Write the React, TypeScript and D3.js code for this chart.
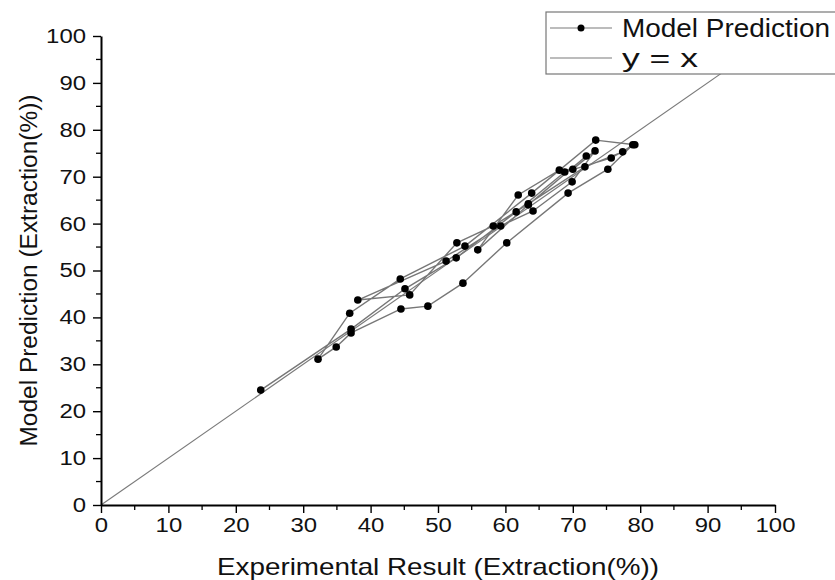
import React, { useEffect, useRef } from 'react';
import * as d3 from 'd3';

// experimental extraction (%) in run order
const experimental = [
  23.7, 37.1, 45.1, 52.7, 61.6, 68.8, 75.7, 79.2, 73.4, 63.9,
  54.0, 44.4, 36.9, 32.2, 34.9, 37.1, 44.5, 48.5, 53.7, 60.2,
  69.3, 75.2, 78.9, 77.4, 71.8, 63.4, 58.2, 52.8, 45.8, 38.1,
  51.2, 59.3, 64.1, 69.9, 73.3, 70.0, 68.0, 61.9, 55.9, 63.4, 72.0,
];
// model predicted extraction (%)
const predicted = [
  24.5, 37.5, 46.1, 52.7, 62.5, 71.0, 74.0, 76.8, 77.8, 66.5,
  55.2, 48.2, 40.9, 31.1, 33.7, 36.7, 41.8, 42.4, 47.3, 55.9,
  66.5, 71.6, 76.8, 75.3, 72.1, 64.2, 59.5, 55.9, 44.8, 43.7,
  52.0, 59.5, 62.7, 68.9, 75.5, 71.6, 71.4, 66.1, 54.4, 64.0, 74.4,
];
const tickValues = [0, 10, 20, 30, 40, 50, 60, 70, 80, 90, 100];
const minorTicks = [5, 15, 25, 35, 45, 55, 65, 75, 85, 95];
const legendLabels = ['Model Prediction', 'y = x'];

const App = () => {
  const ref = useRef<SVGSVGElement | null>(null);

  useEffect(() => {
    const margin = { left: 101, right: 60, top: 36, bottom: 75 };
    const W = 835;
    const H = 580;
    const width = W - margin.left - margin.right;
    const height = H - margin.top - margin.bottom;
    const font = 'Liberation Sans, Arial, sans-serif';

    const root = d3.select(ref.current);
    root.selectAll('*').remove();
    const svg = root.append('g').attr('transform', `translate(${margin.left}, ${margin.top})`);

    const x = d3.scaleLinear().domain([0, 100]).range([0, width]);
    const y = d3.scaleLinear().domain([0, 100]).range([height, 0]);

    // y = x reference line
    svg.append('line')
      .attr('x1', x(0)).attr('y1', y(0))
      .attr('x2', x(100)).attr('y2', y(100))
      .attr('stroke', '#7a7a7a')
      .attr('stroke-width', 1.1);

    // model prediction line + markers
    const pts = experimental.map((e, i) => [e, predicted[i]] as [number, number]);
    const line = d3.line<[number, number]>().x(d => x(d[0])).y(d => y(d[1]));
    svg.append('path')
      .attr('d', line(pts))
      .attr('fill', 'none')
      .attr('stroke', '#777')
      .attr('stroke-width', 1.4);
    svg.selectAll('.dot')
      .data(pts)
      .enter()
      .append('circle')
      .attr('class', 'dot')
      .attr('cx', d => x(d[0]))
      .attr('cy', d => y(d[1]))
      .attr('r', 3.8)
      .attr('fill', '#000');

    // axes
    const xAxis = svg.append('g').attr('transform', `translate(0, ${height})`);
    xAxis.call(d3.axisBottom(x).tickValues(tickValues).tickSize(8).tickSizeOuter(0).tickPadding(5));
    xAxis.selectAll('.minor')
      .data(minorTicks)
      .enter()
      .append('line')
      .attr('x1', d => x(d)).attr('x2', d => x(d))
      .attr('y1', 0).attr('y2', 5)
      .attr('stroke', '#000')
      .attr('stroke-width', 1.3);

    const yAxis = svg.append('g');
    yAxis.call(d3.axisLeft(y).tickValues(tickValues).tickSize(8).tickSizeOuter(0).tickPadding(7));
    yAxis.selectAll('.minor')
      .data(minorTicks)
      .enter()
      .append('line')
      .attr('y1', d => y(d)).attr('y2', d => y(d))
      .attr('x1', 0).attr('x2', -5)
      .attr('stroke', '#000')
      .attr('stroke-width', 1.3);

    svg.selectAll('.domain').attr('stroke', '#000').attr('stroke-width', 2);
    svg.selectAll('.tick line').attr('stroke', '#000').attr('stroke-width', 1.4);
    svg.selectAll('.tick text')
      .attr('font-family', font)
      .attr('font-size', '20px')
      .attr('fill', '#111')
      .attr('lengthAdjust', 'spacingAndGlyphs')
      .attr('textLength', (d: any) => String(d).length * 13.3);

    // axis labels
    svg.append('text')
      .attr('x', width / 2)
      .attr('y', height + 70)
      .attr('text-anchor', 'middle')
      .attr('font-family', font)
      .attr('font-size', '24px')
      .attr('lengthAdjust', 'spacingAndGlyphs')
      .attr('textLength', 442)
      .attr('fill', '#111')
      .text('Experimental Result (Extraction(%))');

    svg.append('text')
      .attr('x', -(height / 2))
      .attr('y', -64)
      .attr('transform', 'rotate(-90)')
      .attr('text-anchor', 'middle')
      .attr('font-family', font)
      .attr('font-size', '23px')
      .attr('lengthAdjust', 'spacingAndGlyphs')
      .attr('textLength', 352)
      .attr('fill', '#111')
      .text('Model Prediction (Extraction(%))');

    // legend
    const lg = root.append('g');
    lg.append('rect')
      .attr('x', 546).attr('y', 12)
      .attr('width', 300).attr('height', 62)
      .attr('fill', '#fff')
      .attr('stroke', '#777')
      .attr('stroke-width', 1.2);
    const legendWidths = [208, 76];
    legendLabels.forEach((lab, i) => {
      const ly = 28 + i * 30;
      lg.append('line')
        .attr('x1', 550).attr('x2', 612)
        .attr('y1', ly).attr('y2', ly)
        .attr('stroke', '#7a7a7a')
        .attr('stroke-width', 1.2);
      if (i === 0) {
        lg.append('circle').attr('cx', 581).attr('cy', ly).attr('r', 3.5).attr('fill', '#000');
      }
      lg.append('text')
        .attr('x', 622)
        .attr('y', ly + 9)
        .attr('font-family', font)
        .attr('font-size', '25px')
        .attr('lengthAdjust', 'spacingAndGlyphs')
        .attr('textLength', legendWidths[i])
        .attr('fill', '#111')
        .text(lab);
    });
  }, []);

  return (
    <svg ref={ref} width={835} height={580}
      style={{ position: 'absolute', left: 0, top: 0, background: '#fff' }} />
  );
};

export default App;
